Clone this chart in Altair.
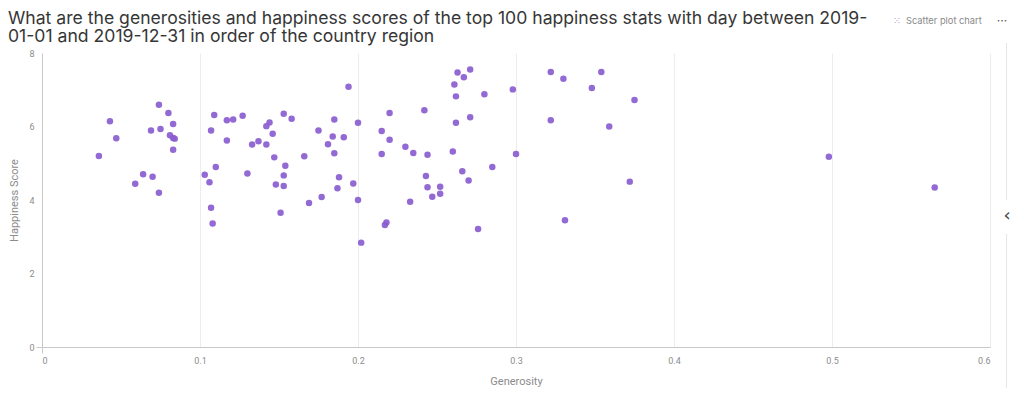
import altair as alt
import pandas as pd

generosity = [
    0.074, 0.080, 0.043, 0.083, 0.069, 0.075, 0.081, 0.083, 0.084, 0.047,
    0.083, 0.036, 0.064, 0.070, 0.059, 0.074,
    0.194, 0.109, 0.117, 0.121, 0.127, 0.153, 0.158, 0.144, 0.142, 0.185,
    0.200, 0.107, 0.146, 0.175, 0.184, 0.191, 0.117, 0.133, 0.137, 0.142,
    0.181, 0.185, 0.147, 0.166, 0.110, 0.154, 0.103, 0.130, 0.106, 0.153,
    0.148, 0.153, 0.188, 0.187, 0.197, 0.107, 0.177, 0.169, 0.200, 0.108,
    0.151, 0.202,
    0.271, 0.263, 0.267, 0.261, 0.262, 0.280, 0.298, 0.220, 0.242, 0.215,
    0.262, 0.271, 0.220, 0.230, 0.215, 0.235, 0.244, 0.260, 0.300, 0.285,
    0.266, 0.270, 0.243, 0.244, 0.252, 0.247, 0.252, 0.233, 0.218, 0.217,
    0.276,
    0.322, 0.330, 0.354, 0.348, 0.375, 0.322, 0.359, 0.372, 0.331,
    0.498, 0.565,
]
happiness = [
    6.59, 6.37, 6.14, 6.07, 5.89, 5.93, 5.76, 5.69, 5.67, 5.68,
    5.37, 5.20, 4.70, 4.63, 4.44, 4.20,
    7.08, 6.31, 6.17, 6.19, 6.29, 6.35, 6.21, 6.11, 6.01, 6.19,
    6.10, 5.89, 5.80, 5.89, 5.73, 5.71, 5.62, 5.51, 5.60, 5.51,
    5.52, 5.27, 5.16, 5.19, 4.90, 4.93, 4.69, 4.72, 4.48, 4.67,
    4.42, 4.38, 4.62, 4.32, 4.45, 3.79, 4.08, 3.92, 4.00, 3.36,
    3.65, 2.84,
    7.55, 7.47, 7.34, 7.14, 6.82, 6.88, 7.01, 6.37, 6.44, 5.88,
    6.10, 6.25, 5.64, 5.45, 5.25, 5.28, 5.23, 5.32, 5.25, 4.90,
    4.78, 4.53, 4.65, 4.35, 4.36, 4.09, 4.17, 3.95, 3.39, 3.32,
    3.21,
    7.48, 7.30, 7.48, 7.05, 6.72, 6.17, 6.00, 4.50, 3.45,
    5.18, 4.34,
]
x_ticks = [0, 0.1, 0.2, 0.3, 0.4, 0.5, 0.6]
y_ticks = [0, 2, 4, 6, 8]
title_lines = [
    "What are the generosities and happiness scores of the top 100 happiness stats with day between 2019-",
    "01-01 and 2019-12-31 in order of the country region",
]

df = pd.DataFrame({"Generosity": generosity, "Happiness Score": happiness})

zero_tick = {"condition": {"test": "datum.value == 0", "value": "#c8c8c8"}, "value": "transparent"}

points = alt.Chart(df).mark_circle(size=42, opacity=0.92, color="#8a5cd0").encode(
    x=alt.X(
        "Generosity:Q",
        scale=alt.Scale(domain=[0, 0.6], nice=False, zero=True),
        axis=alt.Axis(
            values=x_ticks, format="~g", grid=True, gridColor="#ececec", gridWidth=1,
            domainColor="#c8c8c8", ticks=True, tickSize=6, tickColor=zero_tick,
            labelColor="#8c8c8c", labelFont="Roboto", labelFontSize=9, labelPadding=3,
            title="Generosity", titleColor="#8c8c8c", titleFont="Roboto", titleFontSize=11,
            titleFontWeight="normal", titlePadding=10,
        ),
    ),
    y=alt.Y(
        "Happiness Score:Q",
        scale=alt.Scale(domain=[0, 8], nice=False),
        axis=alt.Axis(
            values=y_ticks, format="~g", grid=False,
            domainColor="#c8c8c8", ticks=True, tickSize=6, tickColor=zero_tick,
            labelColor="#8c8c8c", labelFont="Roboto", labelFontSize=9, labelPadding=2,
            title="Happiness Score", titleColor="#8c8c8c", titleFont="Roboto", titleFontSize=11,
            titleFontWeight="normal", titlePadding=9,
        ),
    ),
)

chrome_df = pd.DataFrame({"t": ["Scatter plot chart"]})
label_chart = alt.Chart(chrome_df).mark_text(
    font="Inter", fontSize=9.3, color="#8a8a8a", align="left", baseline="middle"
).encode(x=alt.value(864), y=alt.value(-32), text="t:N")

icon_df = pd.DataFrame({"t": ["⁙"]})
icon_chart = alt.Chart(icon_df).mark_text(
    font="DejaVu Sans", fontSize=10, color="#b3a3d6", align="center", baseline="middle"
).encode(x=alt.value(855), y=alt.value(-32), text="t:N")

dots_df = pd.DataFrame({"t": ["···"]})
dots_chart = alt.Chart(dots_df).mark_text(
    font="Inter", fontSize=12, color="#555555", align="center", baseline="middle"
).encode(x=alt.value(960), y=alt.value(-32), text="t:N")

chev_df = pd.DataFrame({"t": ["‹"]})
chev_chart = alt.Chart(chev_df).mark_text(
    font="DejaVu Sans", fontSize=18, color="#444444", align="center", baseline="middle"
).encode(x=alt.value(965), y=alt.value(163), text="t:N")

edge_top = alt.Chart(chev_df).mark_rule(color="#e6e6e6", strokeWidth=1).encode(
    x=alt.value(964.5), y=alt.value(-10), y2=alt.value(147)
)
edge_bot = alt.Chart(chev_df).mark_rule(color="#e6e6e6", strokeWidth=1).encode(
    x=alt.value(964.5), y=alt.value(181), y2=alt.value(340)
)

chart = alt.layer(points, edge_top, edge_bot, icon_chart, label_chart, dots_chart, chev_chart).properties(
    width=948,
    height=294,
    autosize=alt.AutoSizeParams(type="none"),
    padding={"left": 34, "top": 45, "right": 26, "bottom": 41},
    title=alt.Title(
        text=title_lines, anchor="start", frame="group", dx=-34, offset=6, dy=37,
        font="Inter", fontSize=17.6, fontWeight="normal", color="#363636", lineHeight=18.6,
    ),
).configure_view(stroke=None)

chart.save("out.html", embed_options={"renderer": "svg", "actions": False})
